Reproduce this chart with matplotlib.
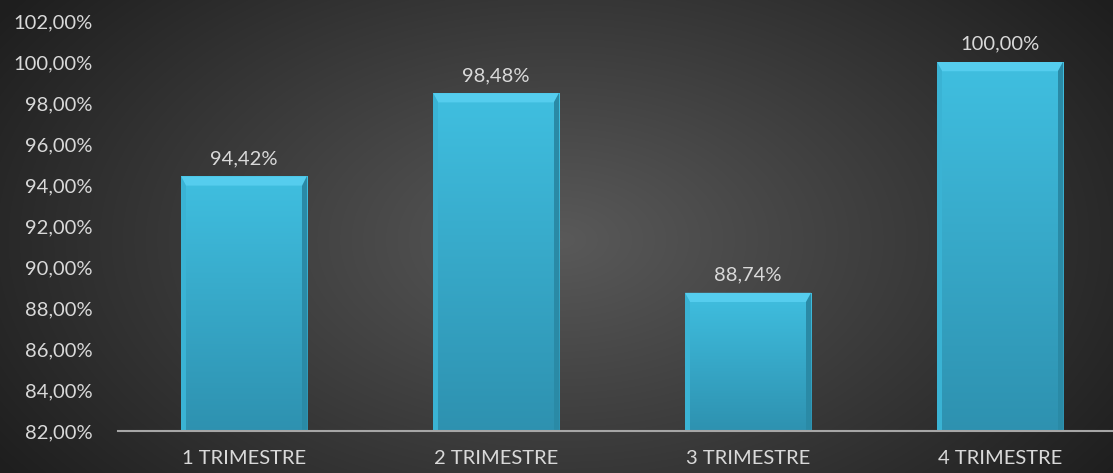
import numpy as np
from matplotlib import pyplot as plt
from matplotlib import ticker
from matplotlib.patches import Polygon

categories = ["1 TRIMESTRE", "2 TRIMESTRE", "3 TRIMESTRE", "4 TRIMESTRE"]
values = [94.42, 98.48, 88.74, 100.00]
y_ticks = [82, 84, 86, 88, 90, 92, 94, 96, 98, 100, 102]

plt.rcParams["font.family"] = ["Lato", "DejaVu Sans"]

fig = plt.figure(figsize=(11.13, 4.73), dpi=100)

# radial background
bg = fig.add_axes([0, 0, 1, 1], zorder=-10)
yy, xx = np.mgrid[0:473, 0:1113]
r = np.sqrt(((xx - 560) / 700.0) ** 2 + ((yy - 240) / 420.0) ** 2)
shade = np.clip(0.35 - 0.24 * r, 0.12, 0.36)
bg.imshow(np.dstack([shade] * 3), aspect="auto", extent=(0, 1, 0, 1))
bg.axis("off")

ax = fig.add_axes([118 / 1113, 42 / 473, 1 - 118 / 1113, 410 / 473])
ax.patch.set_alpha(0)
x = np.arange(len(categories))
width = 0.5
bars = ax.bar(x, [v - 82 for v in values], width, bottom=82, color="none")

grad = np.linspace(0, 1, 256).reshape(-1, 1)
top_c = np.array([0.25, 0.75, 0.88])
bot_c = np.array([0.18, 0.57, 0.69])
for b in bars:
    x0, y0 = b.get_x(), b.get_y()
    w, h = b.get_width(), b.get_height()
    colors = top_c * (1 - grad[..., None]) + bot_c * grad[..., None]
    im = ax.imshow(colors, extent=(x0, x0 + w, y0, y0 + h), aspect="auto",
                   zorder=2, origin="upper")
    im.set_clip_path(b)
    # bevel highlight along the top
    bev = 0.45
    ax.add_patch(Polygon([(x0, y0 + h), (x0 + w, y0 + h),
                          (x0 + w - 0.02, y0 + h - bev), (x0 + 0.02, y0 + h - bev)],
                         closed=True, color="#55cdee", zorder=3, lw=0))
    ax.add_patch(Polygon([(x0 + w, y0 + h), (x0 + w, y0),
                          (x0 + w - 0.02, y0), (x0 + w - 0.02, y0 + h - bev)],
                         closed=True, color="#2a8aa6", zorder=3, lw=0))
    ax.add_patch(Polygon([(x0, y0 + h), (x0, y0),
                          (x0 + 0.02, y0), (x0 + 0.02, y0 + h - bev)],
                         closed=True, color="#3ab3d4", zorder=3, lw=0))

for xi, v in zip(x, values):
    ax.text(xi, v + 0.45, f"{v:.2f}%".replace(".", ","), ha="center", va="bottom",
            color="#d9d9d9", fontsize=14.5)

ax.set_xlim(-0.5, 3.448)
ax.set_ylim(82, 102)
ax.set_yticks(y_ticks)
ax.yaxis.set_major_formatter(
    ticker.FuncFormatter(lambda v, _: f"{v:.2f}%".replace(".", ",")))
ax.set_xticks(x)
ax.set_xticklabels(categories)
ax.tick_params(colors="#d9d9d9", labelsize=14.5, length=0)
ax.tick_params(axis="y", pad=18)
ax.tick_params(axis="x", pad=14)
for s in ["top", "right", "left"]:
    ax.spines[s].set_visible(False)
ax.spines["bottom"].set_color("#a6a6a6")
ax.spines["bottom"].set_linewidth(1.5)
ax.spines["bottom"].set_zorder(4)

fig.savefig("out.png", dpi=100)
